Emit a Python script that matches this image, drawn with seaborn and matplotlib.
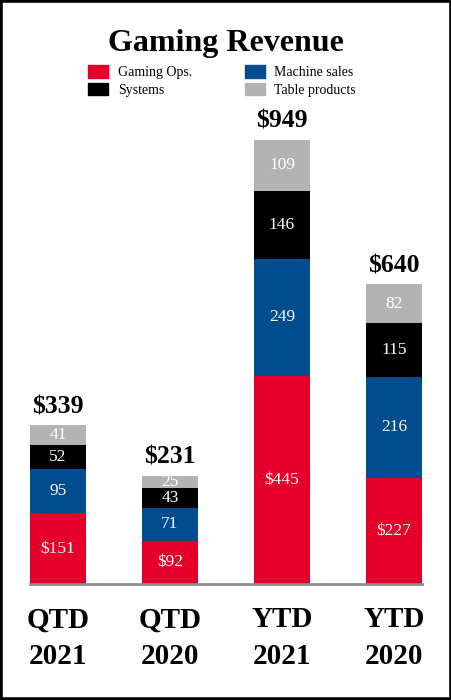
import numpy as np
import pandas as pd
import matplotlib
matplotlib.use("Agg")
import matplotlib.pyplot as plt
import matplotlib.patches as mpatches
import seaborn as sns

# chart data
periods = ["QTD\n2021", "QTD\n2020", "YTD\n2021", "YTD\n2020"]
gaming_ops = [151, 92, 445, 227]
machine_sales = [95, 71, 249, 216]
systems = [52, 43, 146, 115]
table_products = [41, 25, 109, 82]

series_names = ["Gaming Ops.", "Machine sales", "Systems", "Table products"]
series_vals = [gaming_ops, machine_sales, systems, table_products]
colors = ["#E4002B", "#004C8C", "#000000", "#B3B3B3"]

sns.set_style("white")
plt.rcParams['font.family'] = ['Liberation Serif', 'DejaVu Serif']
plt.rcParams['text.color'] = 'black'
plt.rcParams['xtick.color'] = 'black'

df = pd.DataFrame({"Period": periods})
for name, vals in zip(series_names, series_vals):
    df[name] = vals
cum = df[series_names].cumsum(axis=1)
totals = cum[series_names[-1]]

fig = plt.figure(figsize=(4.52, 7.0), dpi=100)
ax = fig.add_axes([30 / 452, 116 / 700, 392 / 452, 468 / 700])

# stack by drawing cumulative heights from the top layer down
for name, color in zip(reversed(series_names), reversed(colors)):
    sns.barplot(x=df["Period"], y=cum[name], color=color, width=0.5,
                saturation=1, ax=ax, edgecolor="none", linewidth=0)

# segment labels
for i in range(len(periods)):
    bottom = 0
    for j, name in enumerate(series_names):
        v = df.loc[i, name]
        lab = f"${v}" if j == 0 else f"{v}"
        ax.text(i, bottom + v / 2, lab, ha="center", va="center",
                color="white", fontsize=12.5)
        bottom += v
    ax.text(i, totals[i] + 15, f"${totals[i]}", ha="center", va="bottom",
            fontsize=18.5, fontweight="bold", color="black")

ax.set_xlim(-0.25, 3.25)
ax.set_ylim(0, 1000)
ax.set_xlabel("")
ax.set_ylabel("")
ax.set_yticks([])
for s in ["top", "left", "right"]:
    ax.spines[s].set_visible(False)
ax.spines["bottom"].set_color("#8c8c8c")
ax.spines["bottom"].set_linewidth(2)
ax.tick_params(axis="x", length=0, pad=16)
for t in ax.get_xticklabels():
    t.set_fontsize(21)
    t.set_fontweight("bold")
    t.set_linespacing(1.45)
    t.set_color("black")

fig.text(0.5, 1 - 44 / 700, "Gaming Revenue", ha="center", va="center",
         fontsize=23, fontweight="bold", color="black")

handles = [mpatches.Patch(color=c, label=n) for n, c in zip(series_names, colors)]
order = [0, 2, 1, 3]
fig.legend([handles[k] for k in order], [series_names[k] for k in order],
           ncol=2, loc="center", bbox_to_anchor=(222 / 452, 1 - 81 / 700),
           frameon=False, fontsize=10, handlelength=1.45, handleheight=1.0,
           columnspacing=3.8, handletextpad=0.7, labelspacing=0.25,
           labelcolor="black")

fig.patches.append(mpatches.Rectangle((0, 0), 1, 1, transform=fig.transFigure,
                                      fill=False, edgecolor="black", linewidth=4))

fig.savefig("out.png", dpi=100)
